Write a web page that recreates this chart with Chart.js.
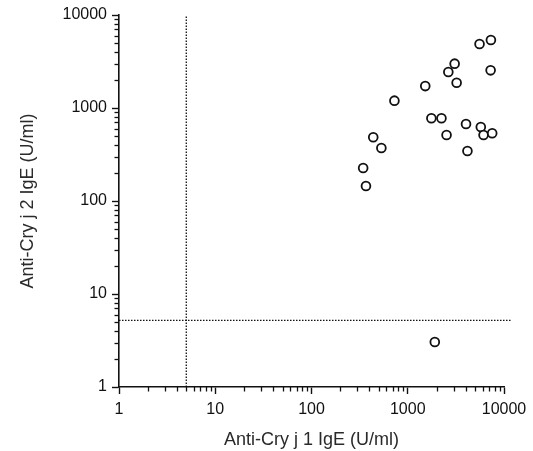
<!DOCTYPE html>
<html>
<head>
<meta charset="utf-8">
<script src="https://cdn.jsdelivr.net/npm/chart.js@4"></script>
<style>
  html, body { margin: 0; padding: 0; background: #fff; }
  #wrap { width: 533px; height: 451px; }
</style>
</head>
<body>
<div id="wrap"><canvas id="chart" width="533" height="451"></canvas></div>
<script>
const INK = "#111";
const FONT = "'Liberation Sans', Arial, sans-serif";

// Anti-Cry j 1 IgE (x) vs Anti-Cry j 2 IgE (y), U/ml
const cryJ1 = [5570, 7310, 3070, 2640, 7260, 3220, 1520, 727, 1760, 2240, 4030,
               5740, 6130, 7540, 2530, 438, 532, 4170, 344, 368, 1910];
const cryJ2 = [4880, 5390, 3000, 2440, 2540, 1870, 1720, 1200, 775, 775, 673,
               625, 512, 535, 512, 484, 371, 345, 226, 145, 3.05];

const cutoffX = 5;
const cutoffY = 5.2;

const majorTicks = [1, 10, 100, 1000, 10000];
const minorSteps = [2, 3, 4, 5, 6, 7, 8, 9];

function tickList() {
  const out = [];
  majorTicks.forEach((m, i) => {
    out.push(m);
    if (i < majorTicks.length - 1) minorSteps.forEach(s => out.push(m * s));
  });
  return out;
}

const isMajor = v => majorTicks.includes(v);

// short minor ticks, drawn outward from the axis
const minorTickPlugin = {
  id: "minorTicks",
  afterDraw(chart) {
    const { ctx, chartArea, scales } = chart;
    ctx.save();
    ctx.strokeStyle = INK;
    ctx.lineWidth = 1.3;
    scales.x.ticks.forEach(t => {
      if (isMajor(t.value)) return;
      const px = Math.round(scales.x.getPixelForValue(t.value)) + 0.5;
      ctx.beginPath(); ctx.moveTo(px, chartArea.bottom); ctx.lineTo(px, chartArea.bottom + 4.5); ctx.stroke();
    });
    scales.y.ticks.forEach(t => {
      if (isMajor(t.value)) return;
      const py = Math.round(scales.y.getPixelForValue(t.value)) + 0.5;
      ctx.beginPath(); ctx.moveTo(chartArea.left, py); ctx.lineTo(chartArea.left - 4.5, py); ctx.stroke();
    });
    ctx.restore();
  },
};

function logAxis(title, titlePad, tickPad, extra) {
  return {
    type: "logarithmic",
    min: 1,
    max: 10000,
    afterBuildTicks: s => { s.ticks = tickList().map(v => ({ value: v, major: isMajor(v) })); },
    border: { display: true, color: INK, width: 1.6 },
    grid: {
      display: true,
      drawOnChartArea: false,
      tickLength: 7,
      tickWidth: 1.4,
      tickColor: c => (c.tick && isMajor(c.tick.value) ? INK : "rgba(0,0,0,0)"),
    },
    ticks: {
      autoSkip: false,
      maxRotation: 0,
      padding: tickPad,
      color: INK,
      font: { family: FONT, size: 16 },
      callback: v => (isMajor(v) ? String(v) : ""),
    },
    title: {
      display: true, text: title, color: "#2a2a2a",
      padding: titlePad,
      font: { family: FONT, size: 18 },
    },
    ...extra,
  };
}

new Chart(document.getElementById("chart"), {
  type: "scatter",
  data: {
    datasets: [
      {
        label: "patients",
        data: cryJ1.map((x, i) => ({ x, y: cryJ2[i] })),
        pointStyle: "circle",
        pointRadius: 4.4,
        pointBorderWidth: 1.8,
        pointBorderColor: INK,
        pointBackgroundColor: "#fff",
      },
      {
        label: "cutoff x",
        type: "line",
        data: [{ x: cutoffX, y: 1 }, { x: cutoffX, y: 10000 }],
        borderColor: INK,
        borderWidth: 1.3,
        borderDash: [1.5, 1.5],
        pointRadius: 0,
      },
      {
        label: "cutoff y",
        type: "line",
        data: [{ x: 1, y: cutoffY }, { x: 11800, y: cutoffY }],
        borderColor: INK,
        borderWidth: 1.3,
        borderDash: [1.5, 1.5],
        pointRadius: 0,
        clip: false,
      },
    ],
  },
  options: {
    responsive: false,
    animation: false,
    layout: { padding: { top: 15, right: 29, left: 0, bottom: 0 } },
    plugins: { legend: { display: false }, tooltip: { enabled: false } },
    scales: {
      x: logAxis("Anti-Cry j 1 IgE (U/ml)", { top: 0, bottom: 0 }, 6, {
        afterFit: s => { s.height = 64; },
      }),
      y: logAxis("Anti-Cry j 2 IgE (U/ml)", { top: 17, bottom: 17 }, 5, {
        afterFit: s => { s.width = 119; },
      }),
    },
  },
  plugins: [minorTickPlugin],
});
</script>
</body>
</html>
